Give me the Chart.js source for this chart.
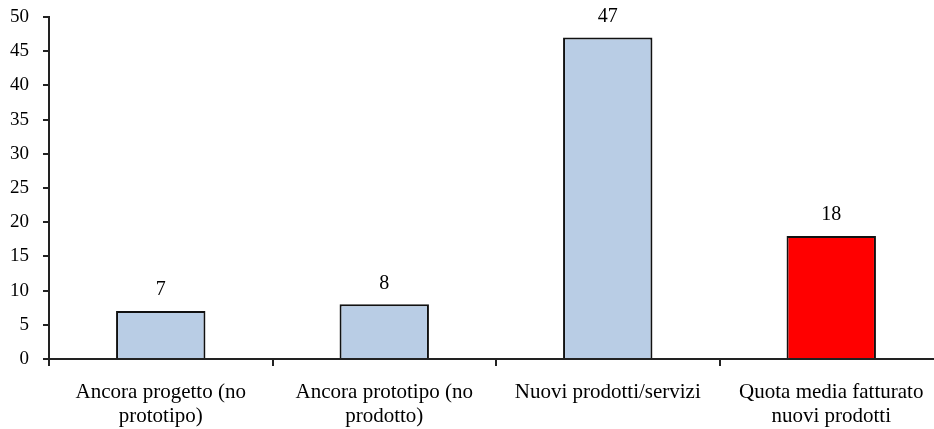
<!DOCTYPE html>
<html>
<head>
<meta charset="utf-8">
<script src="https://cdn.jsdelivr.net/npm/chart.js@4/dist/chart.umd.min.js"></script>
<style>
  html, body { margin: 0; padding: 0; background: #fff; overflow: hidden; }
  #wrap { width: 934px; height: 429px; overflow: hidden; }
  #box { width: 945px; height: 429px; }
</style>
</head>
<body>
<div id="wrap"><div id="box"><canvas id="grafico"></canvas></div></div>
<script>
const categorie = [
  ['Ancora progetto (no', 'prototipo)'],
  ['Ancora prototipo (no', 'prodotto)'],
  'Nuovi prodotti/servizi',
  ['Quota media fatturato', 'nuovi prodotti']
];
const valori = [7, 8, 47, 18];
const colori = ['#B9CDE5', '#B9CDE5', '#B9CDE5', '#FF0000'];

const famiglia = '"Liberation Serif", "DejaVu Serif", serif';

// scrive il valore sopra ogni barra
const etichetteValori = {
  id: 'etichetteValori',
  afterDatasetsDraw(chart) {
    const ctx = chart.ctx;
    const meta = chart.getDatasetMeta(0);
    ctx.save();
    ctx.font = '20px ' + famiglia;
    ctx.fillStyle = '#000';
    ctx.textAlign = 'center';
    ctx.textBaseline = 'middle';
    meta.data.forEach((bar, i) => {
      ctx.fillText(String(valori[i]), bar.x, bar.y - 21);
    });
    ctx.restore();
  }
};

const grafico = new Chart(document.getElementById('grafico'), {
  type: 'bar',
  data: {
    labels: categorie,
    datasets: [{
      data: valori,
      backgroundColor: colori,
      borderColor: '#111',
      borderWidth: 2,
      categoryPercentage: 1,
      barPercentage: 0.4
    }]
  },
  options: {
    responsive: true,
    maintainAspectRatio: false,
    animation: false,
    layout: { padding: { top: 17, right: 2, left: 0, bottom: 0 } },
    plugins: {
      legend: { display: false },
      tooltip: { enabled: false }
    },
    scales: {
      x: {
        offset: true,
        border: { color: '#222', width: 2 },
        grid: { drawOnChartArea: false, offset: true, color: '#222', lineWidth: 2, tickLength: 7 },
        ticks: {
          color: '#000',
          font: { family: famiglia, size: 21, lineHeight: 1.12 },
          padding: 15,
          maxRotation: 0,
          autoSkip: false
        },
        afterFit(scale) {
          scale.height = 70;
          scale.paddingLeft = 0;
          scale.paddingRight = 0;
        }
      },
      y: {
        min: 0,
        max: 50,
        border: { color: '#222', width: 2 },
        grid: { drawOnChartArea: false, color: '#222', lineWidth: 2, tickLength: 6 },
        ticks: { stepSize: 5, color: '#000', font: { family: famiglia, size: 19 }, padding: 14 },
        afterFit(scale) {
          scale.width = 49;
          scale.paddingTop = 0;
          scale.paddingBottom = 0;
        }
      }
    }
  },
  plugins: [etichetteValori]
});
</script>
</body>
</html>
